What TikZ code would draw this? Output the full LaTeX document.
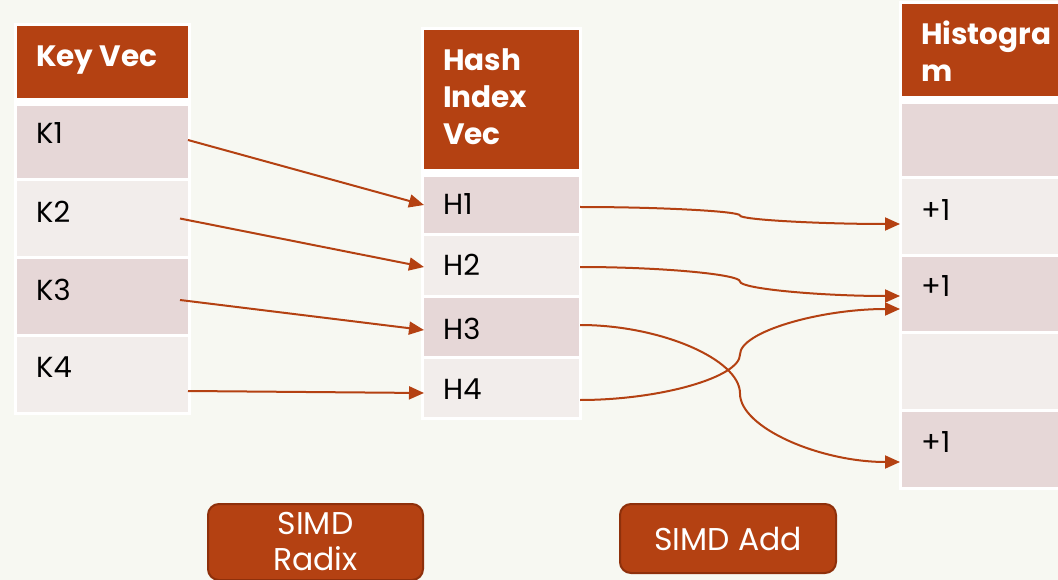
\documentclass[tikz,border=0pt]{standalone}
\usepackage{fontspec}
\setmainfont{Poppins}
\usetikzlibrary{arrows.meta,calc}
\definecolor{rust}{HTML}{B44112}
\definecolor{rustdark}{HTML}{8E300B}
\definecolor{rowdark}{HTML}{E6D7D7}
\definecolor{rowlight}{HTML}{F2EDEB}
\definecolor{paper}{HTML}{F7F8F2}
\begin{document}
\begin{tikzpicture}[x=1pt,y=1pt,
  cell/.style={anchor=north west, inner sep=0pt, outer sep=0pt},
  frame/.style={cell, fill=white},
  head/.style={cell, fill=rust},
  rowA/.style={cell, fill=rowdark},
  rowB/.style={cell, fill=rowlight},
  headtxt/.style={anchor=base west, text=white, inner sep=0pt,
    font=\fontsize{29.5}{37}\selectfont\bfseries},
  celltxt/.style={anchor=base west, text=black, inner sep=0pt,
    font=\fontsize{29}{35}\selectfont},
  btn/.style={draw=rustdark, line width=2pt, fill=rust, rounded corners=11pt,
    text=white, align=center, inner sep=0pt,
    font=\fontsize{31.5}{36}\selectfont},
  link/.style={draw=rust, line width=2pt, -{Triangle[length=15pt,width=13pt]}},
  % S-shaped connector: horizontal at both ends, vertical half-way across
  elbow/.style={to path={let \p1=(\tikztostart), \p2=(\tikztotarget),
     \n1={(\x1+\x2)/2}, \n2={(\y1+\y2)/2} in
     .. controls ({(\x1+\n1)/2},\y1) and (\n1,{(\y1+\n2)/2}) .. (\n1,\n2)
     .. controls (\n1,{(\n2+\y2)/2}) and ({(\n1+\x2)/2},\y2) .. (\tikztotarget)}}
]
\useasboundingbox (0,0) rectangle (1058,-580);
\clip (0,0) rectangle (1058,-580);
\fill[paper] (0,0) rectangle (1058,-580);

% ---- Key vector ----
\node[frame, minimum width=177pt, minimum height=392pt] (kframe) at (14,-23) {};
\node[head, minimum width=171pt, minimum height=72pt] (khead) at (17,-26) {};
\node[rowA, minimum width=171pt, minimum height=72pt] (k1) at (17,-106) {};
\node[rowB, minimum width=171pt, minimum height=75pt] (k2) at (17,-181) {};
\node[rowA, minimum width=171pt, minimum height=75pt] (k3) at (17,-259) {};
\node[rowB, minimum width=171pt, minimum height=75pt] (k4) at (17,-337) {};
\node[headtxt] (khtxt) at (36,-67) {Key Vec};
\node[celltxt] (k1t) at (36,-144) {K1};
\node[celltxt] (k2t) at (36,-223) {K2};
\node[celltxt] (k3t) at (36,-300) {K3};
\node[celltxt] (k4t) at (36,-377) {K4};

% ---- Hash index vector ----
\node[frame, minimum width=161pt, minimum height=393pt] (hframe) at (421,-27) {};
\node[head, minimum width=155pt, minimum height=139pt] (hhead) at (424,-30) {};
\node[rowA, minimum width=155pt, minimum height=56pt] (h1) at (424,-177) {};
\node[rowB, minimum width=155pt, minimum height=59pt] (h2) at (424,-236) {};
\node[rowA, minimum width=155pt, minimum height=58pt] (h3) at (424,-298) {};
\node[rowB, minimum width=155pt, minimum height=58pt] (h4) at (424,-359) {};
\node[headtxt] (hhtxt) at (443,-71) {\vtop{\hbox{Hash}\hbox{Index}\hbox{Vec}}};
\node[celltxt] (h1t) at (443,-215) {H1};
\node[celltxt] (h2t) at (443,-276) {H2};
\node[celltxt] (h3t) at (443,-339) {H3};
\node[celltxt] (h4t) at (443,-399) {H4};

% ---- Histogram ----
\node[frame, minimum width=175pt, minimum height=489pt] (gframe) at (899,-1) {};
\node[head, minimum width=170pt, minimum height=92pt] (ghead) at (902,-4) {};
\node[rowA, minimum width=170pt, minimum height=72pt] (g1) at (902,-104) {};
\node[rowB, minimum width=170pt, minimum height=75pt] (g2) at (902,-179) {};
\node[rowA, minimum width=170pt, minimum height=74pt] (g3) at (902,-257) {};
\node[rowB, minimum width=170pt, minimum height=75pt] (g4) at (902,-334) {};
\node[rowA, minimum width=170pt, minimum height=75pt] (g5) at (902,-412) {};
\node[headtxt] (ghtxt) at (921,-45) {\vtop{\hbox{Histogra}\hbox{m}}};
\node[celltxt] (g2t) at (921,-221) {+1};
\node[celltxt] (g3t) at (921,-297) {+1};
\node[celltxt] (g5t) at (921,-452) {+1};

% ---- operation buttons ----
\node[btn, minimum width=215pt, minimum height=76pt] (radix) at (315.5,-542) {SIMD\\Radix};
\node[btn, minimum width=216pt, minimum height=69pt] (simdadd) at (728,-538.5) {SIMD Add};

% ---- keys to hash indices ----
\draw[link] ([yshift=2pt]k1.east) -- (h1.west);
\draw[link] ([xshift=-8pt]k2.east) -- ([yshift=-1.5pt]h2.west);
\draw[link] ([xshift=-8pt,yshift=-3.5pt]k3.east) -- ([yshift=-3pt]h3.west);
\draw[link] ([yshift=-16.5pt]k4.east) -- ([yshift=-5pt]h4.west);

% ---- hash indices to histogram bins ----
\coordinate (s1) at ([xshift=1pt,yshift=-2pt]h1.east);
\coordinate (s2) at ([xshift=1pt,yshift=-1.5pt]h2.east);
\coordinate (s3) at ([xshift=1pt,yshift=2pt]h3.east);
\coordinate (s4) at ([xshift=1pt,yshift=-12pt]h4.east);
\coordinate (e2) at ([xshift=-2pt,yshift=-7.5pt]g2.west);
\coordinate (e3a) at ([xshift=-2pt,yshift=-2pt]g3.west);
\coordinate (e3b) at ([xshift=-2pt,yshift=-15pt]g3.west);
\coordinate (e5) at ([xshift=-2pt,yshift=-12.5pt]g5.west);
\draw[link] (s1) to[elbow] (e2);
\draw[link] (s2) to[elbow] (e3a);
\draw[link] (s4) to[elbow] (e3b);
\draw[link] (s3) to[elbow] (e5);
\end{tikzpicture}
\end{document}
